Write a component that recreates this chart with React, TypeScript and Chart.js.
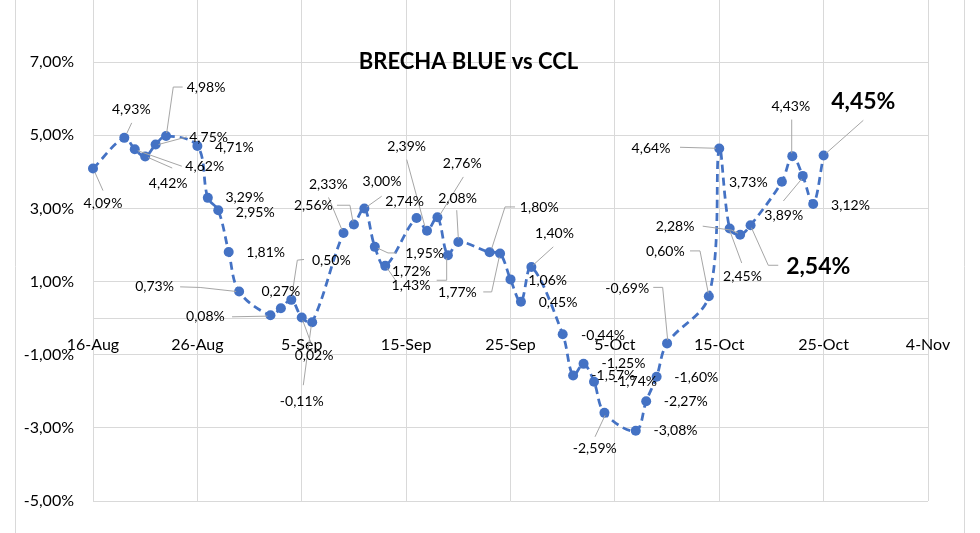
import React, { useEffect, useRef } from 'react';
import { Chart, registerables } from 'chart.js';

Chart.register(...registerables);

const dates = [
  '2019-08-16', '2019-08-19', '2019-08-20', '2019-08-21', '2019-08-22', '2019-08-23',
  '2019-08-26', '2019-08-27', '2019-08-28', '2019-08-29', '2019-08-30',
  '2019-09-02', '2019-09-03', '2019-09-04', '2019-09-05', '2019-09-06',
  '2019-09-09', '2019-09-10', '2019-09-11', '2019-09-12', '2019-09-13',
  '2019-09-16', '2019-09-17', '2019-09-18', '2019-09-19', '2019-09-20',
  '2019-09-23', '2019-09-24', '2019-09-25', '2019-09-26', '2019-09-27',
  '2019-09-30', '2019-10-01', '2019-10-02', '2019-10-03', '2019-10-04',
  '2019-10-07', '2019-10-08', '2019-10-09', '2019-10-10',
  '2019-10-14', '2019-10-15', '2019-10-16', '2019-10-17', '2019-10-18',
  '2019-10-21', '2019-10-22', '2019-10-23', '2019-10-24', '2019-10-25',
];

const brecha = [
  4.09, 4.93, 4.62, 4.42, 4.75, 4.98,
  4.71, 3.29, 2.95, 1.81, 0.73,
  0.08, 0.27, 0.5, 0.02, -0.11,
  2.33, 2.56, 3.0, 1.95, 1.43,
  2.74, 2.39, 2.76, 1.72, 2.08,
  1.8, 1.77, 1.06, 0.45, 1.4,
  -0.44, -1.57, -1.25, -1.74, -2.59,
  -3.08, -2.27, -1.6, -0.69,
  0.6, 4.64, 2.45, 2.28, 2.54,
  3.73, 4.43, 3.89, 3.12, 4.45,
];

const xTickDates = [
  '2019-08-16', '2019-08-26', '2019-09-05', '2019-09-15', '2019-09-25',
  '2019-10-05', '2019-10-15', '2019-10-25', '2019-11-04',
];
const xTickLabels = ['16-Aug', '26-Aug', '5-Sep', '15-Sep', '25-Sep', '5-Oct', '15-Oct', '25-Oct', '4-Nov'];
const yTickValues = [-5, -3, -1, 1, 3, 5, 7];
const boldLabelDates = ['2019-10-18', '2019-10-25'];
const TITLE = 'BRECHA BLUE vs CCL';

// label placement (pixel offsets from each point) and leader lines
type Pt = [number, number];
const labelOffsets: Pt[] = [
  [10, 35], [7, -28.6], [70, 17], [23, 27], [53, -7], [40, -49],
  [37, 2], [37, 0], [37, 2], [37, 1], [-84.6, -4.6],
  [-65, 1.6], [0, -16.4], [40, -39], [12.3, 37.7], [-10.4, 79.7],
  [-15.2, -48.7], [-40.6, -19.3], [17.6, -27.2], [49.9, 6.7], [25.75, 19.3],
  [-11.9, -16.7], [-20.3, -84.5], [24.8, -53.7], [-36.6, 16.7], [-0.8, -43.6],
  [49.6, -44.4], [-42.6, 39.5], [37.2, 0.8], [37.1, 1.2], [23.1, -33.5],
  [40.3, 0.9], [40.2, -0.5], [39.9, -0.45], [41, 0], [-9.7, 35.5],
  [39.75, 0], [39.6, -0.1], [39.7, 0.7], [-39.9, -55],
  [-43.5, -45], [-68.25, -0.2], [12.8, 48.4], [-65.1, -7.9], [67.7, 41],
  [-33.6, 1.2], [-1.5, -49.9], [-19, 39.4], [37.3, 1.2], [39.7, -53.4],
];
const leaderLines: (Pt[] | null)[] = [
  [[2, 4], [10, 22]], [[7.4, -15], [2.4, -4.3]], [[47, 17], [3, 1.5]], [[27, 11.5], [3, 1]],
  [[31, -7.5], [3, 0]], [[16.6, -49], [7.2, -49], [0.6, -3]],
  null, null, null, null, [[-59, -4.6], [-39, -4], [-3, 0]],
  [[-38.4, 1.6], [-3, 0.9]], null, [[12.7, -40.4], [6, -39.7], [0.4, -3]], [[1, 3], [9, 25]], [[-8.9, 63], [-1, 4]],
  [[-15, -35.5], [-1.5, -3]], [[-17, -19.3], [-4, -19.3], [-1, -3]], [[17.3, -12.2], [2.3, -1.5]],
  [[3, 1.4], [13.2, 6.1], [21.2, 6.1]], [[2, 2.5], [10, 14]],
  null, [[-20.3, -71.2], [-2, -3.8]], [[25.9, -40.3], [2.6, -2.5]], [[-11.2, 25], [-1.2, 25], [-1.2, 3]], [[-1.6, -31.9], [0, -3.6]],
  [[25.4, -45.4], [15.4, -45.4], [2.1, -3.8]], [[-16.8, 38.5], [-8.4, 38.5], [-0.8, 3.5]], null, null, [[21.9, -20.1], [1.9, -2]],
  null, null, null, null, [[-9.4, 23.9], [0.6, 2.5]],
  null, null, null, [[-13.8, -56], [-4.4, -56], [0.6, -3.3]],
  [[-18.8, -45.3], [-8.8, -45.3], [-0.5, -3]], [[-39.25, -1.2], [-3.25, -0.2]], [[12, 34.4], [0.3, 2.7]],
  [[-37.4, -8.6], [-8.4, -4.6], [-2.1, -1.6]], [[27.7, 40], [17.7, 40], [0.9, 2.5]],
  null, [[-0.6, -36.6], [-0.6, -3]], [[-19.4, 25.1], [-1, 3]], null, [[39.7, -35.1], [2.4, -2.1]],
];

const DAY = 86400000;
const t0 = Date.parse(xTickDates[0]);
const dayOf = (s: string) => Math.round((Date.parse(s) - t0) / DAY);
const fmtPct = (v: number) => v.toFixed(2).replace('.', ',') + '%';

const FONT = 'Lato, "Open Sans", sans-serif';
const GRID = '#D9D9D9';
const BLUE = '#4472C4';

const decorPlugin = {
  id: 'decor',
  beforeDraw(chart: any) {
    const ctx = chart.ctx;
    ctx.save();
    ctx.fillStyle = '#ffffff';
    ctx.fillRect(0, 0, chart.width, chart.height);
    ctx.strokeStyle = GRID;
    ctx.lineWidth = 1;
    ctx.beginPath();
    ctx.moveTo(15.5, 0);
    ctx.lineTo(15.5, chart.height);
    ctx.moveTo(964.5, 0);
    ctx.lineTo(964.5, chart.height);
    ctx.stroke();
    ctx.restore();
  },
  afterDatasetsDraw(chart: any) {
    const ctx = chart.ctx;
    const meta = chart.getDatasetMeta(0);
    ctx.save();
    // leader lines
    ctx.strokeStyle = '#A6A6A6';
    ctx.lineWidth = 1;
    meta.data.forEach((el: any, i: number) => {
      const l = leaderLines[i];
      if (!l) return;
      ctx.beginPath();
      l.forEach((p, k) => {
        const x = el.x + p[0];
        const y = el.y + p[1];
        if (k === 0) ctx.moveTo(x, y);
        else ctx.lineTo(x, y);
      });
      ctx.stroke();
    });
    // labels
    ctx.fillStyle = '#000000';
    ctx.textAlign = 'center';
    ctx.textBaseline = 'middle';
    meta.data.forEach((el: any, i: number) => {
      const bold = boldLabelDates.includes(dates[i]);
      ctx.font = bold ? `bold 23px ${FONT}` : `14px ${FONT}`;
      const o = labelOffsets[i];
      ctx.fillText(fmtPct(brecha[i]), el.x + o[0], el.y + o[1]);
    });
    // title
    ctx.font = `bold 22px ${FONT}`;
    ctx.fillText(TITLE, 468.5, 62);
    ctx.restore();
  },
};

export default function App() {
  const ref = useRef<HTMLCanvasElement | null>(null);

  useEffect(() => {
    if (!ref.current) return;
    const chart = new Chart(ref.current, {
      type: 'line',
      data: {
        datasets: [
          {
            label: 'Brecha',
            data: dates.map((d, i) => ({ x: dayOf(d), y: brecha[i] })),
            borderColor: BLUE,
            backgroundColor: BLUE,
            borderWidth: 2.75,
            borderDash: [8, 5],
            pointRadius: 5,
            pointHoverRadius: 5,
            pointBackgroundColor: BLUE,
            pointBorderWidth: 0,
            tension: 0.35,
            fill: false,
            clip: false as any,
          },
        ],
      },
      options: {
        responsive: false,
        animation: false,
        events: [],
        layout: { autoPadding: false, padding: { left: 0, right: 52, top: 0, bottom: 32 } },
        plugins: {
          legend: { display: false },
          tooltip: { enabled: false },
          title: { display: false },
        },
        scales: {
          x: {
            type: 'linear',
            min: dayOf(xTickDates[0]),
            max: dayOf(xTickDates[xTickDates.length - 1]),
            position: { y: 0 } as any,
            afterBuildTicks: (s: any) => {
              s.ticks = xTickDates.map((d) => ({ value: dayOf(d) }));
            },
            afterFit: (s: any) => {
              s.height = 0;
              s.paddingTop = 0;
              s.paddingBottom = 0;
            },
            grid: { color: GRID, lineWidth: 1, drawTicks: false },
            border: { display: true, color: GRID, width: 1 },
            ticks: {
              autoSkip: false,
              maxRotation: 0,
              padding: 17,
              color: '#000000',
              font: { family: FONT, size: 16 },
              callback: (_v: any, i: number) => xTickLabels[i],
            },
          },
          y: {
            type: 'linear',
            min: -5,
            max: 8.7,
            afterBuildTicks: (s: any) => {
              s.ticks = yTickValues.map((v) => ({ value: v }));
            },
            afterFit: (s: any) => {
              s.width = 93;
              s.paddingTop = 0;
              s.paddingBottom = 0;
            },
            grid: { color: GRID, lineWidth: 1, drawTicks: false },
            border: { display: false },
            ticks: {
              padding: 19,
              color: '#000000',
              font: { family: FONT, size: 16 },
              callback: (v: any) => fmtPct(Number(v)),
            },
          },
        },
      },
      plugins: [decorPlugin],
    });
    return () => chart.destroy();
  }, []);

  return (
    <div style={{ position: 'fixed', left: 0, top: 0, width: 980, height: 533, background: '#ffffff' }}>
      <canvas ref={ref} width={980} height={533} style={{ display: 'block' }} />
    </div>
  );
}
